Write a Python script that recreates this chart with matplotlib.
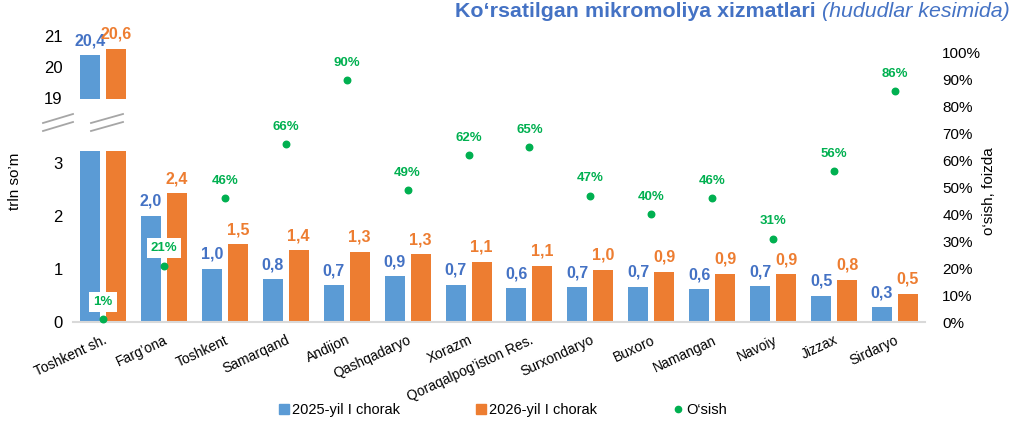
import matplotlib
matplotlib.use("Agg")
import matplotlib.pyplot as plt
from matplotlib.lines import Line2D
from matplotlib.ticker import FuncFormatter
import numpy as np

plt.rcParams["font.family"] = ["Liberation Sans", "DejaVu Sans"]

# --------------------------------------------------------------------------- #
# Data (trln so'm, growth as share)
# --------------------------------------------------------------------------- #
regions = ["Toshkent sh.", "Farg’ona", "Toshkent", "Samarqand", "Andijon",
           "Qashqadaryo", "Xorazm", "Qoraqalpog’iston Res.", "Surxondaryo",
           "Buxoro", "Namangan", "Navoiy", "Jizzax", "Sirdaryo"]
q1_2025 = [20.4, 2.01, 1.01, 0.81, 0.69, 0.86, 0.70, 0.64, 0.66, 0.67, 0.62, 0.68, 0.50, 0.28]
q1_2026 = [20.6, 2.43, 1.47, 1.36, 1.33, 1.28, 1.14, 1.06, 0.99, 0.95, 0.91, 0.90, 0.80, 0.53]
growth = [0.01, 0.21, 0.46, 0.66, 0.90, 0.49, 0.62, 0.65, 0.47, 0.40, 0.46, 0.31, 0.56, 0.86]

series_names = ["2025-yil I chorak", "2026-yil I chorak", "O‘sish"]
low_ticks = [0, 1, 2, 3]
high_ticks = [19, 20, 21]

BLUE = "#5B9BD5"
BLUE_TXT = "#4472C4"
ORANGE = "#ED7D31"
GREEN = "#00B050"

W, H = 1024, 432
fig = plt.figure(figsize=(W / 100, H / 100), dpi=100)


def fx(px):
    return px / W


def fy(py):
    return 1 - py / H


left, right = fx(72.5), fx(925.5)
ax_lo = fig.add_axes([left, fy(322), right - left, fy(151) - fy(322)])
ax_hi = fig.add_axes([left, fy(98.5), right - left, fy(30.3) - fy(98.5)])
ax_gr = fig.add_axes([left, fy(322), right - left, fy(53) - fy(322)])

x = np.arange(len(regions))
off, bw = 0.213, 0.328
xlim = (-0.5, len(regions) - 0.5)


def fmt(v):
    return f"{v:.1f}".replace(".", ",")


for ax, lim in ((ax_lo, (0, 3.23)), (ax_hi, (19, 21.2))):
    ax.bar(x - off, q1_2025, bw, color=BLUE)
    ax.bar(x + off, q1_2026, bw, color=ORANGE)
    ax.set_xlim(*xlim)
    ax.set_ylim(*lim)
    for s in ax.spines.values():
        s.set_visible(False)
    ax.tick_params(axis="y", length=0, pad=7, labelsize=12)
    for xi, a, b in zip(x, q1_2025, q1_2026):
        for xx, v, c in ((xi - off, a, BLUE_TXT), (xi + off, b, ORANGE)):
            if lim[0] < v < lim[1]:
                ax.annotate(fmt(v), (xx, v), xytext=(0, 5), textcoords="offset points",
                            ha="center", va="bottom", color=c, fontsize=11.5,
                            fontweight="bold")

ax_lo.set_yticks(low_ticks)
ax_hi.set_yticks(high_ticks)
ax_hi.set_xticks([])
ax_lo.spines["bottom"].set_visible(True)
ax_lo.spines["bottom"].set_color("#D9D9D9")
ax_lo.spines["bottom"].set_linewidth(1.5)
ax_lo.set_xticks(x)
ax_lo.set_xticklabels(regions, rotation=25, ha="right", va="top",
                      rotation_mode="anchor", fontsize=10)
ax_lo.tick_params(axis="x", length=0, pad=8)

# growth overlay
ax_gr.patch.set_alpha(0)
ax_gr.set_xlim(*xlim)
ax_gr.set_ylim(0, 1)
ax_gr.scatter(x, growth, s=22, color=GREEN, zorder=3, clip_on=False)
for xi, g in zip(x, growth):
    ax_gr.annotate(f"{g:.0%}", (xi, g), xytext=(0, 8), textcoords="offset points",
                   ha="center", va="bottom", color=GREEN, fontsize=9.5,
                   fontweight="bold",
                   bbox=dict(boxstyle="square,pad=0.3", fc="white", ec="none"))
ax_gr.set_xticks([])
ax_gr.yaxis.tick_right()
ax_gr.set_yticks(np.arange(0, 1.01, 0.1))
ax_gr.yaxis.set_major_formatter(FuncFormatter(lambda v, _: f"{v:.0%}"))
ax_gr.tick_params(axis="y", length=0, pad=12, labelsize=11)
for s in ax_gr.spines.values():
    s.set_visible(False)

# axis break marks
for x0, x1 in ((43, 71), (91, 121)):
    for dy in (0, 8):
        fig.add_artist(Line2D([fx(x0), fx(x1 + 2)], [fy(123 + dy), fy(114 + dy)],
                              color="#A6A6A6", lw=1.3))

fig.text(fx(15), fy(181), "trln so’m", rotation=90, ha="center", va="center", fontsize=11)
fig.text(fx(989), fy(191), "o‘sish, foizda", rotation=90, ha="center", va="center",
         fontsize=11)

# title, split into styled parts
fig.canvas.draw()
renderer = fig.canvas.get_renderer()
parts = [("Ko‘rsatilgan ", "bold", "normal"),
         ("mikromoliya xizmatlari ", "bold", "normal"),
         ("(hududlar kesimida)", "normal", "italic")]
cx = fx(455)
for txt, wt, st in parts:
    t = fig.text(cx, fy(17), txt, color=BLUE_TXT, fontsize=15.4, fontweight=wt,
                 fontstyle=st, ha="left", va="baseline")
    cx += t.get_window_extent(renderer).width / W

handles = [Line2D([], [], marker="s", ls="", color=BLUE, markersize=6.5),
           Line2D([], [], marker="s", ls="", color=ORANGE, markersize=6.5),
           Line2D([], [], marker="o", ls="", color=GREEN, markersize=4.5)]
fig.legend(handles, series_names, loc="center left", bbox_to_anchor=(fx(280), fy(410)),
           ncol=3, frameon=False, fontsize=10.5, handlelength=0.6, handletextpad=0.25,
           columnspacing=5.25, borderpad=0, borderaxespad=0)

fig.savefig("out.png", dpi=100)
